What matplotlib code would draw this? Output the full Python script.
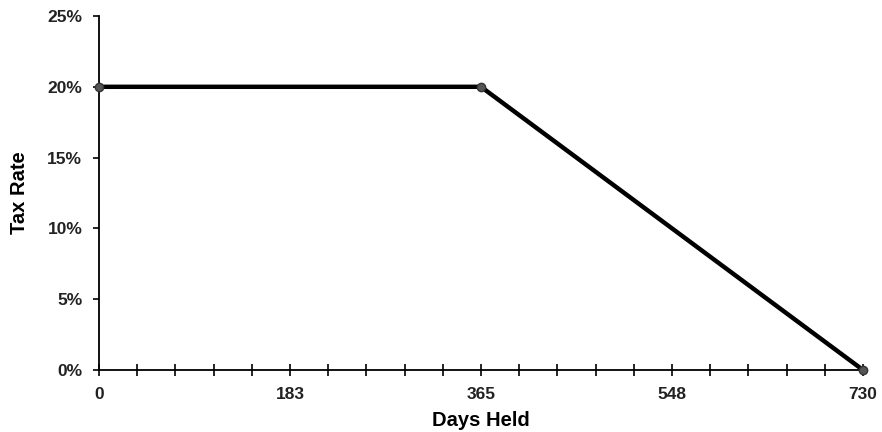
import matplotlib
matplotlib.use('Agg')
import matplotlib.pyplot as plt
import numpy as np

# data
days = [0, 365, 730]
tax_rate = [20, 20, 0]
x_labels = ['0', '183', '365', '548', '730']
y_labels = ['0%', '5%', '10%', '15%', '20%', '25%']

plt.rcParams['font.family'] = ['Liberation Sans', 'DejaVu Sans']
plt.rcParams['font.weight'] = 'bold'

fig = plt.figure(figsize=(8.82, 4.32), dpi=100)
ax = fig.add_axes([99 / 882, 62 / 432, 764 / 882, 354 / 432])

ax.plot(days, tax_rate, color='black', lw=3.2, solid_capstyle='butt', zorder=3)
ax.plot(days, tax_rate, 'o', ms=6, color='#555555', mec='#333333', zorder=4, clip_on=False)

ax.set_xlim(0, 730)
ax.set_ylim(0, 25)
ax.set_xticks(np.linspace(0, 730, 21), minor=True)
ax.set_xticks([0, 182.5, 365, 547.5, 730])
ax.set_xticklabels(x_labels)
ax.set_yticks([0, 5, 10, 15, 20, 25])
ax.set_yticklabels(y_labels)

ax.tick_params(axis='x', which='both', direction='inout', length=9, width=1.2, labelsize=12.5, pad=8)
ax.tick_params(axis='y', direction='out', length=4, width=1.2, labelsize=12.5, pad=8)
ax.tick_params(colors='black', labelcolor='#222222')

for s in ['top', 'right']:
    ax.spines[s].set_visible(False)
for s in ['left', 'bottom']:
    ax.spines[s].set_linewidth(1.3)

ax.set_xlabel('Days Held', fontsize=14.5, fontweight='bold', labelpad=6)
ax.set_ylabel('Tax Rate', fontsize=14.5, fontweight='bold', labelpad=13)

fig.savefig('out.png', dpi=100)
